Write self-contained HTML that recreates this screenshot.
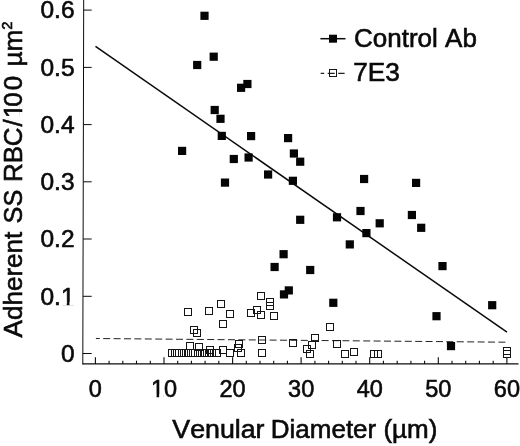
<!DOCTYPE html>
<html><head><meta charset="utf-8"><title>Adherent SS RBC vs Venular Diameter</title>
<style>
html,body{margin:0;padding:0;background:#fff;}
body{width:520px;height:446px;overflow:hidden;}
svg{display:block;}
text{font-family:"Liberation Sans",sans-serif;fill:#0a0a0a;stroke:#0a0a0a;stroke-width:0.6px;font-kerning:none;}
</style></head><body>
<svg width="520" height="446" viewBox="0 0 520 446">
<rect width="520" height="446" fill="#fff"/>
<g stroke="#0c0c0c" fill="none">
<line x1="83.7" y1="0" x2="82.8" y2="364.5" stroke-width="1.0"/>
<line x1="82.6" y1="363.9" x2="518.5" y2="363.9" stroke-width="1.25"/>
<line x1="82.83" y1="353.5" x2="91.7" y2="353.5" stroke-width="1.0"/>
<line x1="82.97" y1="296.3" x2="91.7" y2="296.3" stroke-width="1.0"/>
<line x1="83.11" y1="239.0" x2="91.7" y2="239.0" stroke-width="1.0"/>
<line x1="83.25" y1="181.8" x2="91.7" y2="181.8" stroke-width="1.0"/>
<line x1="83.39" y1="124.6" x2="91.7" y2="124.6" stroke-width="1.0"/>
<line x1="83.53" y1="67.4" x2="91.7" y2="67.4" stroke-width="1.0"/>
<line x1="83.67" y1="10.1" x2="91.7" y2="10.1" stroke-width="1.0"/>
<line x1="95.4" y1="363.9" x2="95.4" y2="357.3" stroke-width="1.1"/>
<line x1="109.1" y1="363.9" x2="109.1" y2="360.7" stroke-width="1.1"/>
<line x1="122.8" y1="363.9" x2="122.8" y2="360.7" stroke-width="1.1"/>
<line x1="136.5" y1="363.9" x2="136.5" y2="360.7" stroke-width="1.1"/>
<line x1="150.3" y1="363.9" x2="150.3" y2="360.7" stroke-width="1.1"/>
<line x1="164.0" y1="363.9" x2="164.0" y2="357.3" stroke-width="1.1"/>
<line x1="177.7" y1="363.9" x2="177.7" y2="360.7" stroke-width="1.1"/>
<line x1="191.4" y1="363.9" x2="191.4" y2="360.7" stroke-width="1.1"/>
<line x1="205.1" y1="363.9" x2="205.1" y2="360.7" stroke-width="1.1"/>
<line x1="218.8" y1="363.9" x2="218.8" y2="360.7" stroke-width="1.1"/>
<line x1="232.6" y1="363.9" x2="232.6" y2="357.3" stroke-width="1.1"/>
<line x1="246.3" y1="363.9" x2="246.3" y2="360.7" stroke-width="1.1"/>
<line x1="260.0" y1="363.9" x2="260.0" y2="360.7" stroke-width="1.1"/>
<line x1="273.7" y1="363.9" x2="273.7" y2="360.7" stroke-width="1.1"/>
<line x1="287.4" y1="363.9" x2="287.4" y2="360.7" stroke-width="1.1"/>
<line x1="301.1" y1="363.9" x2="301.1" y2="357.3" stroke-width="1.1"/>
<line x1="314.9" y1="363.9" x2="314.9" y2="360.7" stroke-width="1.1"/>
<line x1="328.6" y1="363.9" x2="328.6" y2="360.7" stroke-width="1.1"/>
<line x1="342.3" y1="363.9" x2="342.3" y2="360.7" stroke-width="1.1"/>
<line x1="356.0" y1="363.9" x2="356.0" y2="360.7" stroke-width="1.1"/>
<line x1="369.7" y1="363.9" x2="369.7" y2="357.3" stroke-width="1.1"/>
<line x1="383.4" y1="363.9" x2="383.4" y2="360.7" stroke-width="1.1"/>
<line x1="397.2" y1="363.9" x2="397.2" y2="360.7" stroke-width="1.1"/>
<line x1="410.9" y1="363.9" x2="410.9" y2="360.7" stroke-width="1.1"/>
<line x1="424.6" y1="363.9" x2="424.6" y2="360.7" stroke-width="1.1"/>
<line x1="438.3" y1="363.9" x2="438.3" y2="357.3" stroke-width="1.1"/>
<line x1="452.0" y1="363.9" x2="452.0" y2="360.7" stroke-width="1.1"/>
<line x1="465.7" y1="363.9" x2="465.7" y2="360.7" stroke-width="1.1"/>
<line x1="479.4" y1="363.9" x2="479.4" y2="360.7" stroke-width="1.1"/>
<line x1="493.2" y1="363.9" x2="493.2" y2="360.7" stroke-width="1.1"/>
<line x1="506.9" y1="363.9" x2="506.9" y2="357.3" stroke-width="1.1"/>
</g>
<line x1="95.5" y1="46.4" x2="507" y2="332.2" stroke="#0a0a0a" stroke-width="1.5"/>
<line x1="95.9" y1="338.5" x2="505.5" y2="342.2" stroke="#222" stroke-width="1.0" stroke-dasharray="7 3.4" stroke-dashoffset="3.1"/>
<g fill="none" stroke="#151515" stroke-width="1">
<rect x="184.5" y="308.5" width="7.0" height="7.0"/>
<rect x="205.5" y="307.5" width="7.0" height="7.0"/>
<rect x="217.5" y="300.5" width="7.0" height="7.0"/>
<rect x="226.5" y="310.5" width="7.0" height="7.0"/>
<rect x="247.5" y="309.5" width="7.0" height="7.0"/>
<rect x="253.5" y="306.5" width="7.0" height="7.0"/>
<rect x="257.5" y="292.5" width="7.0" height="7.0"/>
<rect x="257.5" y="311.5" width="7.0" height="7.0"/>
<rect x="219.5" y="320.5" width="7.0" height="7.0"/>
<rect x="190.5" y="326.5" width="7.0" height="7.0"/>
<rect x="193.5" y="329.5" width="7.0" height="7.0"/>
<rect x="186.5" y="342.5" width="7.0" height="7.0"/>
<rect x="195.5" y="343.5" width="7.0" height="7.0"/>
<rect x="206.5" y="346.5" width="7.0" height="7.0"/>
<rect x="219.5" y="346.5" width="7.0" height="7.0"/>
<rect x="235.5" y="340.5" width="7.0" height="7.0"/>
<rect x="234.5" y="344.5" width="7.0" height="7.0"/>
<rect x="258.5" y="336.5" width="7.0" height="7.0"/>
<rect x="266.5" y="298.5" width="7.0" height="7.0"/>
<rect x="266.5" y="302.5" width="7.0" height="7.0"/>
<rect x="270.5" y="312.5" width="7.0" height="7.0"/>
<rect x="326.5" y="323.5" width="7.0" height="7.0"/>
<rect x="289.5" y="339.5" width="7.0" height="7.0"/>
<rect x="311.5" y="334.5" width="7.0" height="7.0"/>
<rect x="308.5" y="341.5" width="7.0" height="7.0"/>
<rect x="303.5" y="345.5" width="7.0" height="7.0"/>
<rect x="306.5" y="350.5" width="7.0" height="7.0"/>
<rect x="333.5" y="340.5" width="7.0" height="7.0"/>
<rect x="237.5" y="349.5" width="7.0" height="7.0"/>
<rect x="258.5" y="349.5" width="7.0" height="7.0"/>
<rect x="341.5" y="350.5" width="7.0" height="7.0"/>
<rect x="350.5" y="348.5" width="7.0" height="7.0"/>
<rect x="370.5" y="350.5" width="7.0" height="7.0"/>
<rect x="374.5" y="350.5" width="7.0" height="7.0"/>
<rect x="503.5" y="347.5" width="7.0" height="7.0"/>
<rect x="503.5" y="350.5" width="7.0" height="7.0"/>
<rect x="168.5" y="349.5" width="7.0" height="7.0"/>
<rect x="171.5" y="349.5" width="7.0" height="7.0"/>
<rect x="173.5" y="349.5" width="7.0" height="7.0"/>
<rect x="175.5" y="349.5" width="7.0" height="7.0"/>
<rect x="178.5" y="349.5" width="7.0" height="7.0"/>
<rect x="180.5" y="349.5" width="7.0" height="7.0"/>
<rect x="182.5" y="349.5" width="7.0" height="7.0"/>
<rect x="184.5" y="349.5" width="7.0" height="7.0"/>
<rect x="187.5" y="349.5" width="7.0" height="7.0"/>
<rect x="189.5" y="349.5" width="7.0" height="7.0"/>
<rect x="191.5" y="349.5" width="7.0" height="7.0"/>
<rect x="194.5" y="349.5" width="7.0" height="7.0"/>
<rect x="196.5" y="349.5" width="7.0" height="7.0"/>
<rect x="198.5" y="349.5" width="7.0" height="7.0"/>
<rect x="200.5" y="349.5" width="7.0" height="7.0"/>
<rect x="203.5" y="349.5" width="7.0" height="7.0"/>
<rect x="205.5" y="349.5" width="7.0" height="7.0"/>
<rect x="208.5" y="349.5" width="7.0" height="7.0"/>
<rect x="213.5" y="349.5" width="7.0" height="7.0"/>
<rect x="226.5" y="349.5" width="7.0" height="7.0"/>
</g>
<g fill="#050505">
<rect x="200.4" y="11.7" width="8.2" height="8.2"/>
<rect x="209.6" y="52.6" width="8.2" height="8.2"/>
<rect x="193.1" y="60.9" width="8.2" height="8.2"/>
<rect x="243.3" y="79.9" width="8.2" height="8.2"/>
<rect x="237.0" y="83.7" width="8.2" height="8.2"/>
<rect x="210.6" y="105.9" width="8.2" height="8.2"/>
<rect x="216.4" y="114.7" width="8.2" height="8.2"/>
<rect x="217.7" y="131.8" width="8.2" height="8.2"/>
<rect x="247.0" y="132.0" width="8.2" height="8.2"/>
<rect x="178.0" y="146.8" width="8.2" height="8.2"/>
<rect x="229.7" y="154.9" width="8.2" height="8.2"/>
<rect x="244.5" y="153.4" width="8.2" height="8.2"/>
<rect x="264.0" y="170.4" width="8.2" height="8.2"/>
<rect x="220.9" y="178.5" width="8.2" height="8.2"/>
<rect x="284.0" y="134.0" width="8.2" height="8.2"/>
<rect x="289.8" y="149.4" width="8.2" height="8.2"/>
<rect x="296.1" y="157.6" width="8.2" height="8.2"/>
<rect x="288.8" y="176.7" width="8.2" height="8.2"/>
<rect x="360.0" y="174.9" width="8.2" height="8.2"/>
<rect x="356.4" y="206.9" width="8.2" height="8.2"/>
<rect x="332.9" y="213.2" width="8.2" height="8.2"/>
<rect x="296.1" y="215.7" width="8.2" height="8.2"/>
<rect x="375.6" y="219.2" width="8.2" height="8.2"/>
<rect x="362.3" y="229.0" width="8.2" height="8.2"/>
<rect x="345.7" y="240.3" width="8.2" height="8.2"/>
<rect x="279.5" y="250.1" width="8.2" height="8.2"/>
<rect x="270.5" y="262.9" width="8.2" height="8.2"/>
<rect x="306.1" y="265.9" width="8.2" height="8.2"/>
<rect x="284.7" y="286.3" width="8.2" height="8.2"/>
<rect x="279.9" y="290.3" width="8.2" height="8.2"/>
<rect x="329.2" y="298.7" width="8.2" height="8.2"/>
<rect x="412.0" y="178.8" width="8.2" height="8.2"/>
<rect x="407.8" y="210.9" width="8.2" height="8.2"/>
<rect x="417.1" y="223.7" width="8.2" height="8.2"/>
<rect x="438.4" y="262.0" width="8.2" height="8.2"/>
<rect x="488.1" y="301.1" width="8.2" height="8.2"/>
<rect x="432.4" y="312.1" width="8.2" height="8.2"/>
<rect x="446.9" y="342.0" width="8.2" height="8.2"/>
</g>
<line x1="320.4" y1="38.7" x2="345.5" y2="38.7" stroke="#0a0a0a" stroke-width="1.5"/>
<rect x="329" y="34.7" width="8" height="8" fill="#050505"/>
<line x1="320.7" y1="73.4" x2="344.6" y2="73.4" stroke="#222" stroke-width="1.1" stroke-dasharray="7 3.5" stroke-dashoffset="3.5"/>
<rect x="329.5" y="69.5" width="7" height="7" fill="none" stroke="#151515" stroke-width="1"/>
<g transform="translate(354.0,47.1) scale(1.02,1)"><text font-size="25.5" text-anchor="start">Control Ab</text></g>
<g transform="translate(353.2,81.3) scale(1.03,1)"><text font-size="25.5" text-anchor="start">7E3</text></g>
<g transform="translate(74.5,361.85) scale(1.02,1)"><text font-size="24" text-anchor="end">0</text></g>
<g transform="translate(74.5,304.62) scale(1.02,1)"><text font-size="24" text-anchor="end">0.1</text><rect x="-12.34" y="-2.50" width="4.76" height="3.40" fill="#fff"/><rect x="-4.94" y="-2.50" width="4.52" height="3.40" fill="#fff"/></g>
<g transform="translate(74.5,247.39) scale(1.02,1)"><text font-size="24" text-anchor="end">0.2</text></g>
<g transform="translate(74.5,190.16) scale(1.02,1)"><text font-size="24" text-anchor="end">0.3</text></g>
<g transform="translate(74.5,132.93) scale(1.02,1)"><text font-size="24" text-anchor="end">0.4</text></g>
<g transform="translate(74.5,75.7) scale(1.02,1)"><text font-size="24" text-anchor="end">0.5</text></g>
<g transform="translate(74.5,18.47) scale(1.02,1)"><text font-size="24" text-anchor="end">0.6</text></g>
<g transform="translate(95.4,397.0) scale(0.98,1)"><text font-size="24" text-anchor="middle">0</text></g>
<g transform="translate(163.98,397.0) scale(0.98,1)"><text font-size="24" text-anchor="middle">10</text><rect x="-12.34" y="-2.50" width="4.76" height="3.40" fill="#fff"/><rect x="-4.94" y="-2.50" width="4.52" height="3.40" fill="#fff"/></g>
<g transform="translate(232.56,397.0) scale(0.98,1)"><text font-size="24" text-anchor="middle">20</text></g>
<g transform="translate(301.14,397.0) scale(0.98,1)"><text font-size="24" text-anchor="middle">30</text></g>
<g transform="translate(369.72,397.0) scale(0.98,1)"><text font-size="24" text-anchor="middle">40</text></g>
<g transform="translate(438.3,397.0) scale(0.98,1)"><text font-size="24" text-anchor="middle">50</text></g>
<g transform="translate(506.88,397.0) scale(0.98,1)"><text font-size="24" text-anchor="middle">60</text></g>
<g transform="translate(172.3,438.0) scale(1.05,1)"><text font-size="25.5" text-anchor="start">Venular</text></g>
<g transform="translate(270.75,438.0) scale(1.02,1)"><text font-size="25.5" text-anchor="start">Diameter (µm)</text></g>
<g transform="translate(22.0,337.45) rotate(-90) scale(1.023,1)"><text font-size="25.5" text-anchor="start">Adherent</text></g>
<g transform="translate(22.0,223.43) rotate(-90) scale(0.99,1)"><text font-size="25.5" text-anchor="start">SS</text></g>
<g transform="translate(22.0,181.95) rotate(-90) scale(1.02,1)"><text font-size="25.5" text-anchor="start" dx="0 0 -0.5 1.0 1.0 -3.0 2.0">RBC/100</text><rect x="63.53" y="-2.61" width="5.03" height="3.51" fill="#fff"/><rect x="71.33" y="-2.61" width="4.77" height="3.51" fill="#fff"/></g>
<g transform="translate(22.0,66.39999999999998) rotate(-90) scale(1.022,1)"><text font-size="25.5" text-anchor="start">µm<tspan font-size="14.5" dy="-10.4">2</tspan></text></g>
</svg></body></html>
